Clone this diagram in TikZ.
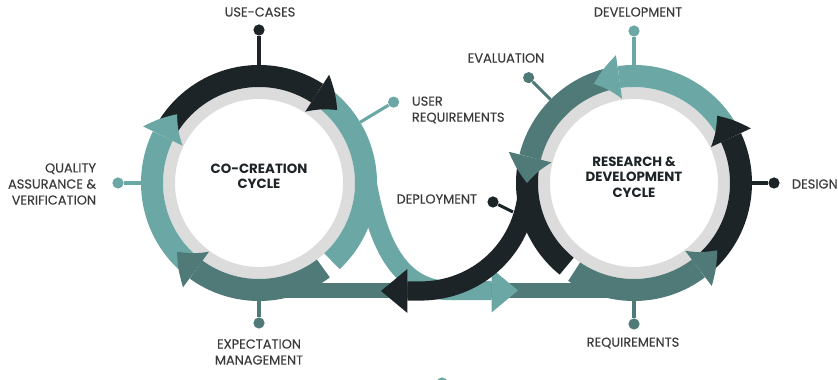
\documentclass[tikz,border=0pt]{standalone}
\usepackage{fontspec}
\setmainfont{Poppins}
\newfontfamily\lblfont[FakeBold=0.25]{Poppins}
\usetikzlibrary{arrows.meta,bending}
\definecolor{lteal}{HTML}{6BA8A5}
\definecolor{dteal}{HTML}{4F7A77}
\definecolor{ink}{HTML}{1D2428}
\definecolor{ringgray}{HTML}{DCDCDC}
\definecolor{txt}{HTML}{3B3B3B}
\def\bandarc[#1](#2)(#3:#4){\draw[#1] (#2) ++(#3:107) arc[start angle=#3,end angle=#4,radius=107]}

\begin{document}
\begin{tikzpicture}[x=0.025cm,y=0.025cm,
	band/.style={line width=0.55cm},
	sband/.style={line width=0.48cm},
	hband/.style={line width=0.37cm},
	head/.style={-{Triangle[width=1.1cm,length=0.66cm,line width=0pt,bend]}},
	spoke/.style={line width=2.2pt},
	dot/.style={circle,fill,inner sep=0pt,minimum size=0.28cm},
	lbl/.style={text=txt,font=\lblfont\fontsize{9.2}{11.4}\selectfont},
	title/.style={text=ink,font=\bfseries\fontsize{9.5}{10.9}\selectfont,align=center}]
	\useasboundingbox (0,0) rectangle (838,380);
	\coordinate (cc) at (259,197);
	\coordinate (rd) at (634,197);
	\coordinate (lbot) at (259,89.5);
	\coordinate (rbot) at (634,89.5);
	
	%INNER RINGS
	\draw[ringgray,line width=0.3cm] (cc) circle[radius=90];
	\draw[ringgray,line width=0.3cm] (rd) circle[radius=90];
	
	%BOTTOM BAND
	\draw[dteal,hband] (lbot) -- (rbot);
	
	%CO-CREATION CYCLE
	\bandarc[band,lteal](cc)(50:-47);
	\bandarc[band,ink,head](cc)(152:43);
	\bandarc[band,lteal,head](cc)(228:140);
	\bandarc[band,dteal,head](cc)(307:220);
	
	%R&D CYCLE
	\bandarc[band,ink](rd)(172:231);
	\bandarc[band,dteal,head](rd)(105:180);
	\bandarc[band,lteal,head](rd)(32:112);
	\bandarc[band,ink,head](rd)(-48:39);
	\bandarc[band,dteal,head](rd)(236:321);
	
	%CROSSING
	\path (cc) ++(12:107) coordinate (ts);
	\coordinate (tm) at (450,89.5);
	\coordinate (te) at (518,89.5);
	\draw[lteal,sband,head] (ts) to[out=-82,in=180] (tm) -- (te);
	\path (rd) ++(185:107) coordinate (bs);
	\coordinate (bm) at (420,89);
	\coordinate (be) at (381,89);
	\draw[ink,sband,head] (bs) to[out=-95,in=0] (bm) -- (be);
	
	%SPOKES
	\path (cc) ++(90:118) coordinate (uc) ++(90:35) node[dot,ink] (ucdot) {};
	\path (cc) ++(31:118) coordinate (ur) ++(31:39) node[dot,lteal] (urdot) {};
	\path (cc) ++(180:118) coordinate (qa) ++(180:23) node[dot,lteal] (qadot) {};
	\path (cc) ++(270:118) coordinate (em) ++(270:22) node[dot,dteal] (emdot) {};
	\path (rd) ++(90:118) coordinate (dv) ++(90:34) node[dot,lteal] (dvdot) {};
	\path (rd) ++(135:118) coordinate (ev) ++(135:31) node[dot,dteal] (evdot) {};
	\path (rd) ++(0:118) coordinate (ds) ++(0:22) node[dot,ink] (dsdot) {};
	\path (rd) ++(270:118) coordinate (rq) ++(270:23) node[dot,dteal] (rqdot) {};
	\coordinate (dp) at (513,168);
	\node[dot,ink] (dpdot) at (493,178) {};
	\draw[spoke,ink] (uc) -- (ucdot);
	\draw[spoke,lteal] (ur) -- (urdot);
	\draw[spoke,lteal] (qa) -- (qadot);
	\draw[spoke,dteal] (em) -- (emdot);
	\draw[spoke,lteal] (dv) -- (dvdot);
	\draw[spoke,dteal] (ev) -- (evdot);
	\draw[spoke,ink] (ds) -- (dsdot);
	\draw[spoke,dteal] (rq) -- (rqdot);
	\draw[spoke,ink] (dp) -- (dpdot);
	\node[dot,lteal] (cut) at (442,-3) {};
	
	%LABELS
	\node[lbl] (usecases) at (260,368) {USE-CASES};
	\node[lbl,anchor=west,align=left] (userreq) at (407,270) {USER\\REQUIREMENTS};
	\node[lbl,anchor=east,align=right] (quality) at (101,196) {QUALITY\\ASSURANCE \&\\VERIFICATION};
	\node[lbl,align=center] (expect) at (259,28) {EXPECTATION\\MANAGEMENT};
	\node[lbl] (develop) at (638,368) {DEVELOPMENT};
	\node[lbl] (evaluate) at (506,322) {EVALUATION};
	\node[lbl,anchor=west] (design) at (787,196) {DESIGN};
	\node[lbl] (require) at (633,37) {REQUIREMENTS};
	\node[lbl,anchor=east] (deploy) at (482,181) {DEPLOYMENT};
	\node[title] (cocreate) at (259,204) {CO-CREATION\\CYCLE};
	\node[title] (research) at (634,203) {RESEARCH \&\\DEVELOPMENT\\CYCLE};
\end{tikzpicture}
\end{document}
